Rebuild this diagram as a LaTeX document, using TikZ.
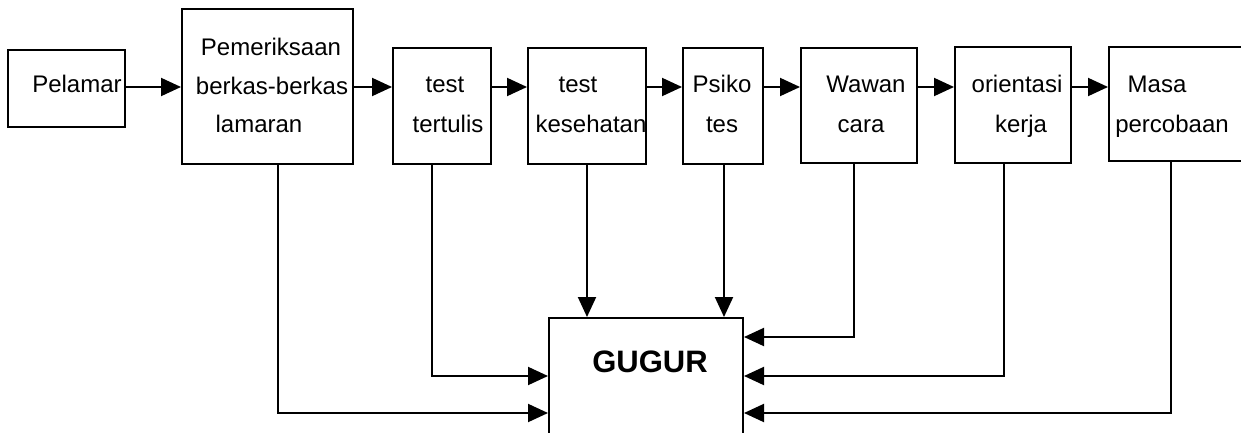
\documentclass[tikz,border=0pt]{standalone}
\usepackage{fontspec}
\setmainfont{Liberation Sans}
\usetikzlibrary{arrows.meta}
\begin{document}
\begin{tikzpicture}[x=0.5pt,y=-0.5pt,
  box/.style={draw,line width=1pt,inner sep=0pt,rectangle},
  lbl/.style={anchor=base,inner sep=0pt,font=\fontsize{12}{14}\selectfont},
  conn/.style={line width=1pt,-{Triangle[length=10pt,width=9pt]}}]
\useasboundingbox (0,0) rectangle (1241,433);
\clip (0,0) rectangle (1241,433);
% boxes
\node[box,minimum width=58.5pt,minimum height=38.5pt] (pel) at (66.5,88.5) {};
\node[box,minimum width=85.5pt,minimum height=77.5pt] (pem) at (267.5,86.5) {};
\node[box,minimum width=49pt,minimum height=58pt] (tt) at (442,106) {};
\node[box,minimum width=59pt,minimum height=58pt] (tk) at (587,106) {};
\node[box,minimum width=40pt,minimum height=58pt] (ps) at (723,106) {};
\node[box,minimum width=58pt,minimum height=57.5pt] (ww) at (859,105.5) {};
\node[box,minimum width=58pt,minimum height=58pt] (or) at (1013,105) {};
\node[box,minimum width=75.5pt,minimum height=57pt] (ms) at (1184.5,104) {};
\node[box,minimum width=97pt,minimum height=66pt] (gg) at (646,384) {};
% texts
\node[lbl] (t1) at (77,93) {Pelamar};
\node[lbl] (t2a) at (271,56) {Pemeriksaan};
\node[lbl] (t2b) at (272,95) {berkas-berkas};
\node[lbl] (t2c) at (259,133) {lamaran};
\node[lbl] (t3a) at (445,93) {test};
\node[lbl] (t3b) at (448,133) {tertulis};
\node[lbl] (t4a) at (578,93) {test};
\node[lbl] (t4b) at (591,133) {kesehatan};
\node[lbl] (t5a) at (722,93) {Psiko};
\node[lbl] (t5b) at (722,133) {tes};
\node[lbl] (t6a) at (866,93) {Wawan};
\node[lbl] (t6b) at (861,133) {cara};
\node[lbl] (t7a) at (1017,93) {orientasi};
\node[lbl] (t7b) at (1021,133) {kerja};
\node[lbl] (t8a) at (1157,93) {Masa};
\node[lbl] (t8b) at (1172,133) {percobaan};
\node[anchor=base,inner sep=0pt,font=\fontsize{15.5}{18}\selectfont\bfseries] (tg) at (650,372) {GUGUR};
% reference coordinates
\coordinate (row) at (0,87);
\coordinate (xpem) at (278,0);
\coordinate (xtt) at (432,0);
\coordinate (xtk) at (587,0);
\coordinate (xps) at (724,0);
\coordinate (xww) at (854,0);
\coordinate (xor) at (1004,0);
\coordinate (xms) at (1171,0);
\coordinate (y1) at (0,337);
\coordinate (y2) at (0,376);
\coordinate (y3) at (0,413);
% chain
\draw[conn] (pel.east |- row) -- (pem.west |- row);
\draw[conn] (pem.east |- row) -- (tt.west |- row);
\draw[conn] (tt.east |- row) -- (tk.west |- row);
\draw[conn] (tk.east |- row) -- (ps.west |- row);
\draw[conn] (ps.east |- row) -- (ww.west |- row);
\draw[conn] (ww.east |- row) -- (or.west |- row);
\draw[conn] (or.east |- row) -- (ms.west |- row);
% to GUGUR
\draw[conn] (pem.south -| xpem) |- (gg.west |- y3);
\draw[conn] (tt.south -| xtt) |- (gg.west |- y2);
\draw[conn] (tk.south -| xtk) -- (gg.north -| xtk);
\draw[conn] (ps.south -| xps) -- (gg.north -| xps);
\draw[conn] (ww.south -| xww) |- (gg.east |- y1);
\draw[conn] (or.south -| xor) |- (gg.east |- y2);
\draw[conn] (ms.south -| xms) |- (gg.east |- y3);
\end{tikzpicture}
\end{document}
